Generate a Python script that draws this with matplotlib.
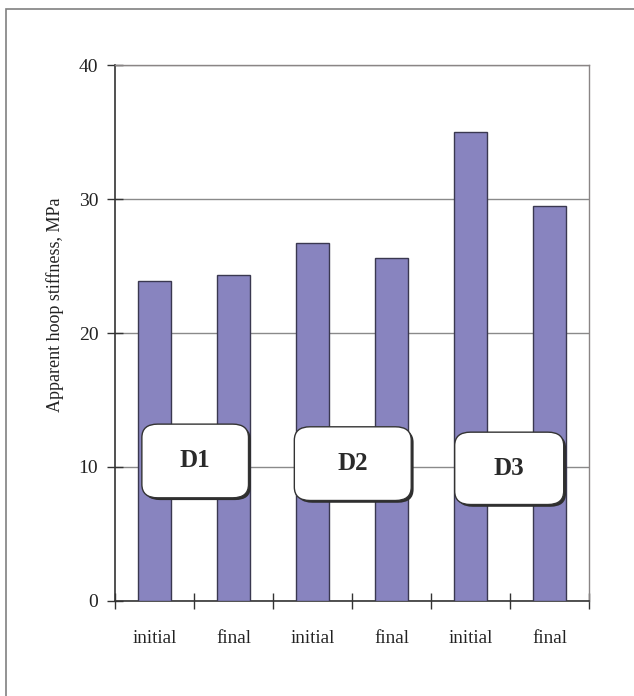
import numpy as np
import matplotlib.pyplot as plt
from matplotlib.patches import FancyBboxPatch, Rectangle

plt.rcParams['font.family'] = ['Liberation Serif', 'DejaVu Serif']

labels = ["initial", "final", "initial", "final", "initial", "final"]
stiffness = [23.9, 24.3, 26.7, 25.6, 35.0, 29.5]
groups = ["D1", "D2", "D3"]
# box extents in data coords: (x0, x1, y0, y1)
group_boxes = [(-0.16, 1.19, 7.7, 13.2), (1.77, 3.25, 7.5, 13.0), (3.80, 5.18, 7.2, 12.6)]

fig = plt.figure(figsize=(6.34, 6.96), dpi=100)
ax = fig.add_axes([0.1814, 0.1365, 0.7476, 0.7701])

# outer frame
fig.patches.append(Rectangle((6 / 634, -0.1), 1.2, 1 - 9 / 696 + 0.1, transform=fig.transFigure,
                             fill=False, edgecolor="#808080", linewidth=1.2))

x = np.arange(len(stiffness))
ax.bar(x, stiffness, width=0.41, color="#8884bf", edgecolor="#3a3850", linewidth=1.0, zorder=3)

ax.set_xlim(-0.5, 5.5)
ax.set_ylim(0, 40)
ax.set_yticks([0, 10, 20, 30, 40])
ax.set_xticks(np.arange(-0.5, 6.0, 1.0))
ax.set_xticklabels([])
ax.set_xticks(x, minor=True)
ax.set_xticklabels(labels, minor=True)
ax.tick_params(axis="x", which="minor", length=0, pad=21, labelsize=13.8, labelcolor="#222222")
ax.tick_params(axis="x", which="major", direction="inout", length=12, width=1, color="#333333")
ax.tick_params(axis="y", direction="inout", length=12, width=1, color="#333333",
               labelsize=14, labelcolor="#222222", pad=6)
ax.yaxis.grid(True, color="#8a8a8a", linewidth=1.0, zorder=0)
ax.set_axisbelow(True)

for s in ["top", "right"]:
    ax.spines[s].set_color("#8a8585")
    ax.spines[s].set_linewidth(1.0)
for s in ["left", "bottom"]:
    ax.spines[s].set_color("#333333")
    ax.spines[s].set_linewidth(1.2)

ax.set_ylabel("Apparent hoop stiffness, MPa", fontsize=13, color="#222222")
ax.yaxis.set_label_coords(-0.107, 0.553)

for name, (x0, x1, y0, y1) in zip(groups, group_boxes):
    shadow = FancyBboxPatch((x0 + 0.03, y0 - 0.17), x1 - x0, y1 - y0,
                            boxstyle="round,pad=0,rounding_size=0.2",
                            mutation_aspect=5.0, facecolor="#2e2e2e", edgecolor="none", zorder=4)
    ax.add_patch(shadow)
    box = FancyBboxPatch((x0, y0), x1 - x0, y1 - y0,
                         boxstyle="round,pad=0,rounding_size=0.2",
                         mutation_aspect=5.0, facecolor="white", edgecolor="#333333",
                         linewidth=1.0, zorder=5)
    ax.add_patch(box)
    ax.text((x0 + x1) / 2, (y0 + y1) / 2, name, ha="center", va="center",
            fontsize=18, fontweight="bold", color="#2a2a2a", zorder=6)

fig.savefig("out.png", dpi=100)
